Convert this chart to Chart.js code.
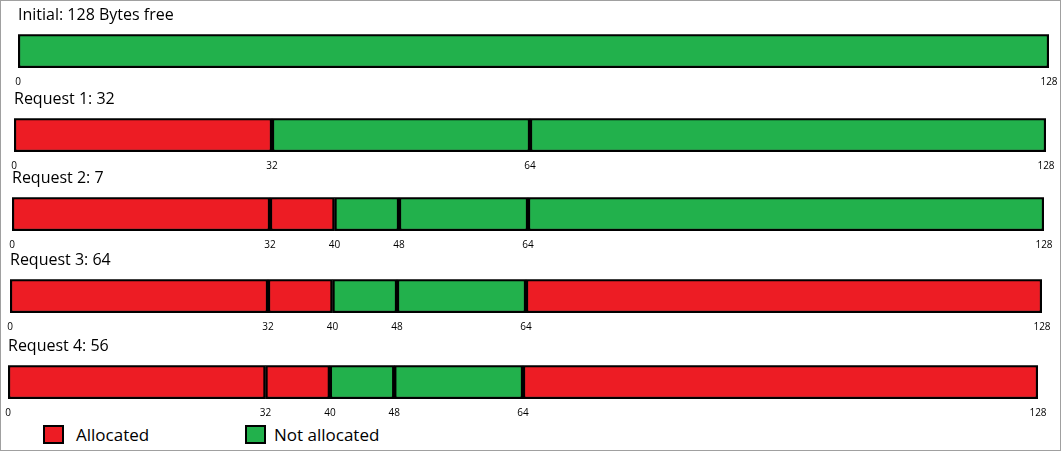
<!DOCTYPE html>
<html><head><meta charset="utf-8">
<script src="https://cdn.jsdelivr.net/npm/chart.js@4"></script>
<style>
body{margin:0;background:#fff;font-family:"Open Sans",sans-serif}
#wrap{position:relative;width:1061px;height:451px;box-sizing:border-box;border:1px solid #a0a0a0;overflow:hidden}
.row{position:absolute}
.lg{position:absolute;top:424px;width:21px;height:19px;border:2px solid #000;box-sizing:border-box}
.lt{position:absolute;top:422px;font-size:17px}
</style></head><body>
<div id="wrap">
<div class="lg" style="left:42px;background:#ed1c24"></div><div class="lt" style="left:75px">Allocated</div>
<div class="lg" style="left:244px;background:#22b14c"></div><div class="lt" style="left:273px">Not allocated</div>
</div>
<script>
const titles=["Initial: 128 Bytes free","Request 1: 32","Request 2: 7","Request 3: 64","Request 4: 56"];
const segStarts=[[0],[0,32,64],[0,32,40,48,64],[0,32,40,48,64],[0,32,40,48,64]];
const segEnds=[[128],[32,64,128],[32,40,48,64,128],[32,40,48,64,128],[32,40,48,64,128]];
const segAlloc=[[0],[1,0,0],[1,1,0,0,0],[1,1,0,0,1],[1,1,0,0,1]];
const tickVals=[[0,128],[0,32,64,128],[0,32,40,48,64,128],[0,32,40,48,64,128],[0,32,40,48,64,128]];
const barLeft=[17,13,11,9,7], barRight=[1048,1045,1043,1041,1037];
const titleTop=[5,89,168,250,336];
const PAD=10;
const wrap=document.getElementById('wrap');
titles.forEach((t,i)=>{
  const d=document.createElement('div');d.className='row';
  const w=barRight[i]-barLeft[i]+2*PAD;
  d.style.left=(barLeft[i]-PAD)+'px';d.style.top=titleTop[i]+'px';
  d.style.width=w+'px';d.style.height='82px';
  const c=document.createElement('canvas');d.appendChild(c);wrap.appendChild(d);
  const ds=segStarts[i].map((s,k)=>({data:[[s,segEnds[i][k]]],
    backgroundColor:segAlloc[i][k]?'#ed1c24':'#22b14c',borderColor:'#000',borderWidth:2.5,
    borderSkipped:false,barPercentage:1,categoryPercentage:1,grouped:false}));
  new Chart(c,{type:'bar',data:{labels:[''],datasets:ds},
    options:{indexAxis:'y',responsive:true,maintainAspectRatio:false,animation:false,
      layout:{padding:{left:PAD,right:PAD,top:0,bottom:0},autoPadding:false},
      plugins:{legend:{display:false},tooltip:{enabled:false},
        title:{display:true,text:t,align:'start',color:'#000',font:{family:'Open Sans',size:16,weight:'normal'},padding:{top:0,bottom:9}}},
      scales:{y:{display:false},
        x:{min:0,max:128,grid:{display:false},border:{display:false},
          afterBuildTicks:a=>{a.ticks=tickVals[i].map(v=>({value:v}));},
          ticks:{autoSkip:false,maxRotation:0,padding:0,color:'#000',font:{family:'Open Sans',size:10}}}}}});
});
</script></body></html>
